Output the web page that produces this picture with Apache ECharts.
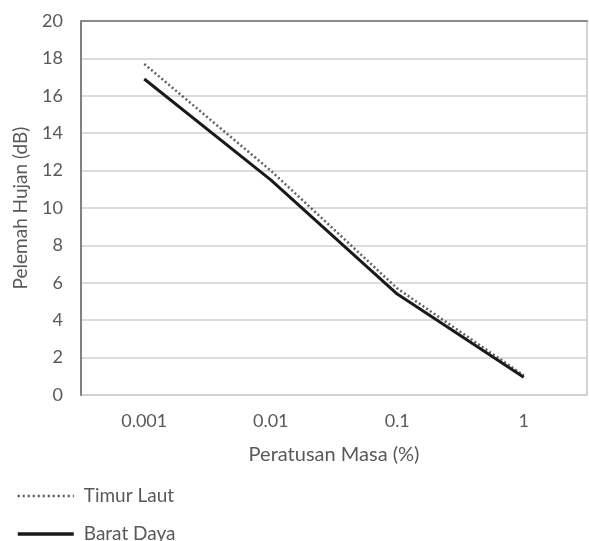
<!DOCTYPE html>
<html>
<head>
<meta charset="utf-8">
<script src="https://cdn.jsdelivr.net/npm/echarts@6/dist/echarts.min.js"></script>
<style>
html,body{margin:0;padding:0;background:#fff;}
#chart{width:589px;height:541px;}
</style>
</head>
<body>
<div id="chart"></div>
<script>
const categories = ['0.001', '0.01', '0.1', '1'];
const timurLaut = [17.7, 12.0, 5.7, 1.05];
const baratDaya = [16.9, 11.5, 5.4, 0.95];
const yTicks = { min: 0, max: 20, interval: 2 };

const FONT = 'Lato, "Open Sans", sans-serif';
const chart = echarts.init(document.getElementById('chart'), null, { renderer: 'canvas' });
chart.setOption({
  backgroundColor: '#ffffff',
  animation: false,
  textStyle: { fontFamily: FONT },
  grid: { left: 81, right: 2, top: 21, bottom: 146, show: true, borderColor: '#c8c8c8', borderWidth: 1.5 },
  legend: {
    orient: 'vertical',
    left: 16,
    top: 486,
    height: 80,
    padding: 0,
    itemWidth: 56,
    itemHeight: 14,
    itemGap: 18,
    itemStyle: { opacity: 0 },
    textStyle: { fontFamily: FONT, fontSize: 19, lineHeight: 20, color: '#595959', padding: [0, 0, 0, 5] },
    data: [
      { name: 'Timur Laut', lineStyle: { color: '#555555', width: 2.5, type: [2, 3] } },
      { name: 'Barat Daya', lineStyle: { color: '#1a1a1a', width: 3.5, type: 'solid' } }
    ]
  },
  xAxis: [{
    type: 'category',
    data: categories,
    boundaryGap: true,
    name: 'Peratusan Masa (%)',
    nameLocation: 'middle',
    nameGap: 50,
    nameTextStyle: { fontFamily: FONT, fontSize: 20, color: '#595959' },
    axisLine: { show: false },
    axisTick: { show: false },
    axisLabel: { fontFamily: FONT, fontSize: 18, color: '#595959', margin: 17 }
  }, {
    type: 'category',
    data: categories,
    position: 'top',
    axisLine: { show: true, lineStyle: { color: '#8a8a8a', width: 2 } },
    axisTick: { show: false },
    axisLabel: { show: false }
  }],
  yAxis: {
    type: 'value',
    min: yTicks.min,
    max: yTicks.max,
    interval: yTicks.interval,
    name: 'Pelemah Hujan (dB)',
    nameLocation: 'middle',
    nameGap: 51,
    nameRotate: 90,
    nameTextStyle: { fontFamily: FONT, fontSize: 19, color: '#595959' },
    axisLine: { show: true, lineStyle: { color: '#808080', width: 2 } },
    axisTick: { show: false },
    axisLabel: { fontFamily: FONT, fontSize: 18, color: '#595959', margin: 18 },
    splitLine: { show: true, lineStyle: { color: '#d0d0d0', width: 1.5 } }
  },
  series: [{
    name: 'Timur Laut',
    type: 'line',
    data: timurLaut,
    symbol: 'none',
    itemStyle: { color: '#606060' },
    lineStyle: { color: '#606060', width: 2.5, type: [2, 2.5] },
    z: 2
  }, {
    name: 'Barat Daya',
    type: 'line',
    data: baratDaya,
    symbol: 'none',
    itemStyle: { color: '#1a1a1a' },
    lineStyle: { color: '#1a1a1a', width: 3 },
    z: 3
  }]
});
</script>
</body>
</html>
